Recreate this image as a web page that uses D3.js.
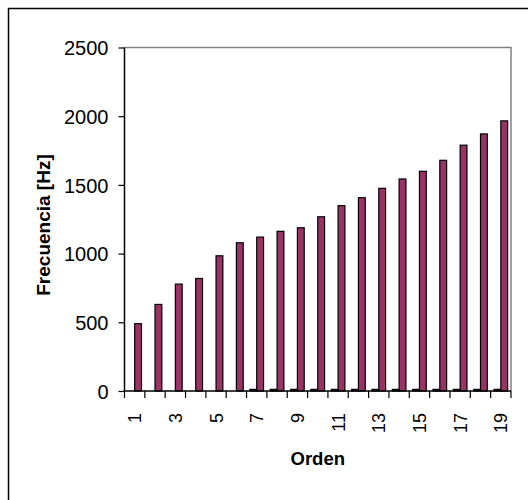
<!DOCTYPE html>
<html>
<head>
<meta charset="utf-8">
<script src="https://cdn.jsdelivr.net/npm/d3@7/dist/d3.min.js"></script>
<style>
html,body{margin:0;padding:0;background:#fff;}
svg{display:block;}
text{font-family:Arial,"Liberation Sans",sans-serif;}
</style>
</head>
<body>
<script>
const categories = ["1","2","3","4","5","6","7","8","9","10","11","12","13","14","15","16","17","18","19"];
const seriesNames = ["Serie1","Serie2"];
const serie1 = [0,0,0,0,0,0,12,12,12,12,12,12,12,12,12,12,12,12,12];
const serie2 = [490,630,778,819,984,1079,1120,1162,1188,1268,1349,1407,1475,1543,1599,1679,1789,1871,1966];
const yTicks = [0,500,1000,1500,2000,2500];
const xTickLabels = ["1","3","5","7","9","11","13","15","17","19"];
const colors = ["#333399","#993366"];

const W = 528, H = 500;
const m = {left:124.5, top:47.5, right:511, bottom:391};

const svg = d3.select("body").append("svg").attr("width",W).attr("height",H);

// outer chart area border
svg.append("rect").attr("x",8.5).attr("y",8.5).attr("width",540).attr("height",520)
  .attr("fill","#fff").attr("stroke","#000").attr("stroke-width",1.5);

const x0 = d3.scaleBand().domain(categories).range([m.left, m.right]).padding(0);
const pad = x0.bandwidth()*0.165;
const x1 = d3.scaleBand().domain(seriesNames).range([pad, x0.bandwidth()-pad]).padding(0);
const y = d3.scaleLinear().domain([0,2500]).range([m.bottom, m.top]);

// plot border top & right (gray)
svg.append("path")
  .attr("d",`M${m.left},${m.top}H${m.right}V${m.bottom}`)
  .attr("fill","none").attr("stroke","#808080").attr("stroke-width",1.5);

// bars
const data = categories.map((c,i)=>({c, vals:[serie1[i], serie2[i]]}));
const g = svg.append("g");
data.forEach(d=>{
  d.vals.forEach((v,j)=>{
    g.append("rect")
      .attr("x", x0(d.c)+x1(seriesNames[j]))
      .attr("y", y(v))
      .attr("width", x1.bandwidth())
      .attr("height", y(0)-y(v))
      .attr("fill", colors[j])
      .attr("stroke","#000").attr("stroke-width",1.2);
  });
});

// y axis
const yAxis = d3.axisLeft(y).tickValues(yTicks).tickSize(6).tickPadding(10).tickFormat(d3.format("d"));
const ya = svg.append("g").attr("transform",`translate(${m.left},0)`).call(yAxis);
ya.select(".domain").attr("d",`M-0,${m.bottom}V${m.top}`).attr("stroke","#000").attr("stroke-width",1.5);
ya.selectAll(".tick line").attr("stroke","#000").attr("stroke-width",1.2);
ya.selectAll(".tick text").attr("font-size","20px").attr("fill","#000")
  .attr("font-family","Arial, 'Liberation Sans', sans-serif").attr("dy","0.36em");

// x axis with ticks at category boundaries
const xa = svg.append("g").attr("transform",`translate(0,${m.bottom})`);
xa.append("line").attr("x1",m.left).attr("x2",m.right).attr("y1",0).attr("y2",0)
  .attr("stroke","#000").attr("stroke-width",1.5);
const boundaries = categories.map(c=>x0(c)).concat([m.right]);
xa.selectAll("line.tk").data(boundaries).join("line").attr("class","tk")
  .attr("x1",d=>d).attr("x2",d=>d).attr("y1",0).attr("y2",7)
  .attr("stroke","#000").attr("stroke-width",1.2);
xa.selectAll("text.lb").data(xTickLabels).join("text").attr("class","lb")
  .attr("transform",d=>`translate(${x0(d)+x0.bandwidth()/2},22) rotate(-90)`)
  .attr("text-anchor","end").attr("dy","0.36em")
  .attr("font-size","18px").attr("fill","#000")
  .text(d=>d);

// axis titles
svg.append("text").attr("transform","translate(43,225) rotate(-90)")
  .attr("text-anchor","middle").attr("dy","0.35em")
  .attr("font-size","19px").attr("font-weight","bold").text("Frecuencia [Hz]");
svg.append("text").attr("x",(m.left+m.right)/2).attr("y",465)
  .attr("text-anchor","middle")
  .attr("font-size","18.5px").attr("font-weight","bold").text("Orden");
</script>
</body>
</html>
